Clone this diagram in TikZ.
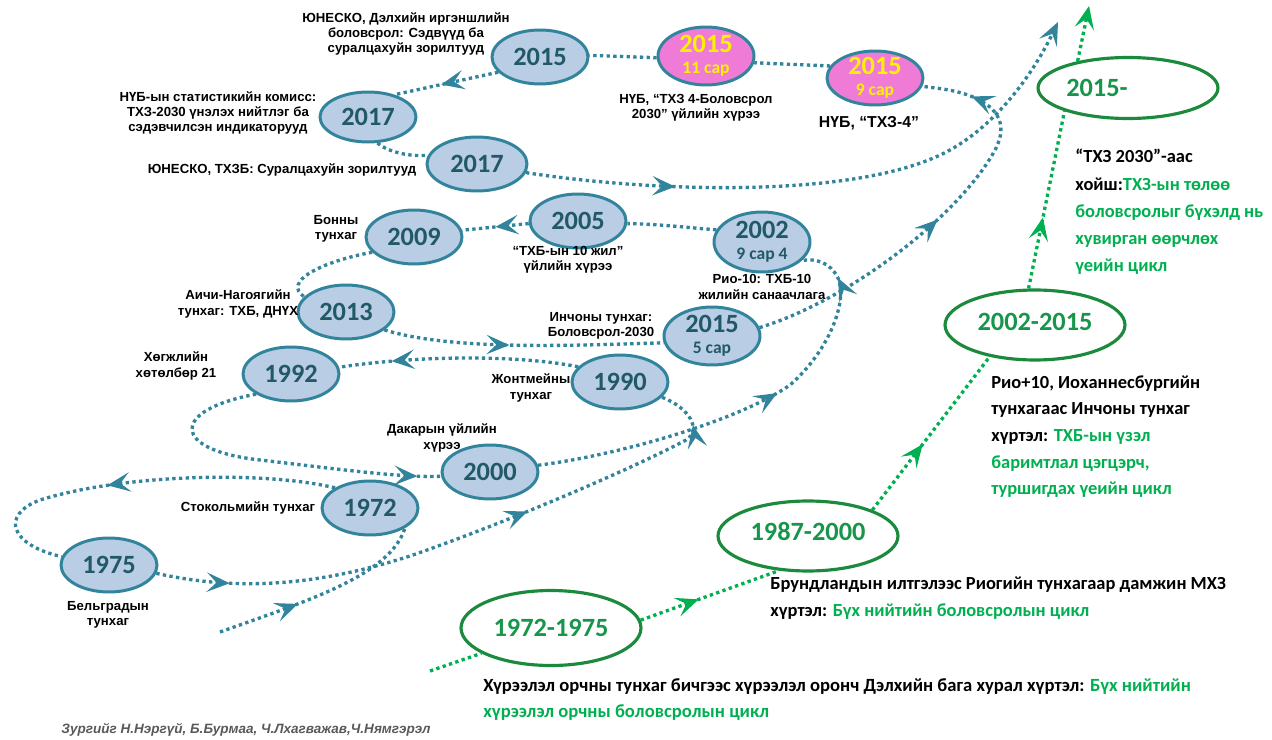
\documentclass[tikz,border=0pt]{standalone}
\usepackage{fontspec}
\setmainfont{Liberation Sans}
\newfontfamily\calibri{Carlito}
\usetikzlibrary{shapes.geometric,arrows.meta,decorations.markings}
\definecolor{tealline}{HTML}{31849B}
\definecolor{yearfill}{HTML}{B9CDE5}
\definecolor{yeartext}{HTML}{215968}
\definecolor{pinkfill}{HTML}{F07BD6}
\definecolor{cycleline}{HTML}{1B8A3C}
\definecolor{cycletext}{HTML}{17954A}
\definecolor{cyclegreen}{HTML}{00B050}
\definecolor{creditgray}{HTML}{595959}
\newcommand{\subyear}[1]{{\fontsize{10}{10}\selectfont #1}}
\tikzset{
  flowtip/.tip={Stealth[length=13pt,width=11pt,inset=5.5pt]},
  year/.style={ellipse,draw=tealline,fill=yearfill,line width=1.7pt,minimum width=1.92cm,minimum height=1.08cm,inner sep=-2pt,text=yeartext,font=\calibri\bfseries\fontsize{15}{15}\selectfont,align=center},
  pinkyear/.style={year,fill=pinkfill,text=yellow},
  cyclenode/.style={ellipse,draw=cycleline,line width=1.8pt,minimum width=3.6cm,minimum height=1.4cm,inner sep=0pt,text=cycletext,font=\calibri\bfseries\fontsize{15}{15}\selectfont},
  note/.style={font=\bfseries\fontsize{7.5}{8.8}\selectfont,align=center,inner sep=0pt},
  desc/.style={font=\calibri\bfseries\fontsize{10.5}{15.2}\selectfont,align=left,anchor=north west,inner sep=0pt},
  flow/.style={draw=tealline,line width=1.9pt,dash pattern=on 1.9pt off 1.9pt},
  cycleflow/.style={flow,draw=cyclegreen},
  midtip/.style={postaction={decorate,decoration={markings,mark=at position #1 with {\arrow{flowtip}}}}},
}
\begin{document}
\begin{tikzpicture}[x=0.02cm,y=-0.02cm]
\useasboundingbox (0,0) rectangle (1272,740);

% events
\node[year] (y1972) at (370,508) {1972};
\node[year] (y1975) at (109,565) {1975};
\node[year] (y1990) at (620,382) {1990};
\node[year] (y1992) at (291,374) {1992};
\node[year] (y2000) at (490,472) {2000};
\node[year,minimum height=1.2cm] (y2002) at (762,242) {2002\\[-3pt]\subyear{9 сар 4}};
\node[year] (y2005) at (578,221) {2005};
\node[year] (y2009) at (414,237) {2009};
\node[year] (y2013) at (346,312) {2013};
\node[year,minimum height=1.16cm] (y2015a) at (712,336) {2015\\[-3pt]\subyear{5 сар}};
\node[pinkyear] (y2015b) at (875,78) {2015\\[-3pt]\subyear{9 сар}};
\node[pinkyear,minimum height=1.16cm] (y2015c) at (706,56) {2015\\[-3pt]\subyear{11 сар}};
\node[year] (y2015d) at (540,57) {2015};
\node[year,minimum height=1cm] (y2017a) at (368,117) {2017};
\node[year,minimum width=2cm] (y2017b) at (477,164) {2017};

\node[note] (l2015d) at (406,34) {ЮНЕСКО, Дэлхийн иргэншлийн\\боловсрол: Сэдвүүд ба\\суралцахуйн зорилтууд};
\node[note] (l2015c) at (696,108) {НҮБ, “ТХЗ 4-Боловсрол\\2030” үйлийн хүрээ};
\node[note,font=\bfseries\fontsize{9}{10}\selectfont] (l2015b) at (869,123) {НҮБ, “ТХЗ-4”};
\node[note] (l2017a) at (218,113) {НҮБ-ын статистикийн комисс:\\ТХЗ-2030 үнэлэх нийтлэг ба\\сэдэвчилсэн индикаторууд};
\node[note] (l2017b) at (282,170) {ЮНЕСКО, ТХЗБ: Суралцахуйн зорилтууд};
\node[note] (l2009) at (336,229) {Бонны\\тунхаг};
\node[note] (l2005) at (568,260) {“ТХБ-ын 10 жил”\\үйлийн хүрээ};
\node[note] (l2002) at (762,287) {Рио-10: ТХБ-10\\жилийн санаачлага};
\node[note] (l2013) at (238,304) {Аичи-Нагоягийн\\тунхаг: ТХБ, ДНҮХ};
\node[note] (l2015a) at (601,326) {Инчоны тунхаг:\\Боловсрол-2030};
\node[note] (l1992) at (176,366) {Хөгжлийн\\хөтөлбөр 21};
\node[note] (l1990) at (531,388) {Жонтмейны\\тунхаг};
\node[note] (l2000) at (442,438) {Дакарын үйлийн\\хүрээ};
\node[note] (l1972) at (248,508) {Стокольмийн тунхаг};
\node[note] (l1975) at (108,615) {Бельградын\\тунхаг};

% timeline
\coordinate (start) at (220,632);
\coordinate (future) at (1058,22);
\draw[flow,midtip=0.38] (start) .. controls (310,600) and (390,575) .. (y1972.-30);
\draw[flow,midtip=0.58] (y1972.150) .. controls (260,470) and (120,475) .. (40,500) .. controls (0,515) and (10,545) .. (y1975.170);
\draw[flow,midtip=0.12,midtip=0.62,midtip=0.93] (y1975.-10) .. controls (240,592) and (320,585) .. (410,556) .. controls (500,525) and (630,470) .. (686,440) .. controls (702,430) and (690,408) .. (y1990.-20);
\draw[flow,midtip=0.78] (y1990.160) .. controls (520,355) and (420,355) .. (y1992.8);
\draw[flow,midtip=0.93] (y1992.-150) .. controls (170,410) and (170,450) .. (260,460) .. controls (330,468) and (400,478) .. (y2000.185);
\draw[flow,midtip=0.58,midtip=0.9] (y2000.8) .. controls (620,455) and (740,420) .. (790,385) .. controls (830,350) and (848,300) .. (838,278) .. controls (830,262) and (815,258) .. (y2002.-25);
\draw[flow] (y2002.165) .. controls (690,228) and (660,224) .. (y2005.-3);
\draw[flow,midtip=0.5] (y2005.183) -- (y2009.8);
\draw[flow] (y2009.-160) .. controls (320,262) and (282,282) .. (y2013.160);
\draw[flow,midtip=0.45] (y2013.-25) .. controls (450,350) and (560,346) .. (y2015a.188);
\draw[flow,midtip=0.5,midtip=0.88] (y2015a.10) .. controls (850,300) and (960,215) .. (995,150) .. controls (1010,122) and (995,105) .. (968,95) .. controls (950,89) and (935,88) .. (y2015b.-10);
\draw[flow] (y2015b.165) -- (y2015c.-8);
\draw[flow] (y2015c.182) -- (y2015d.2);
\draw[flow,midtip=0.55] (y2015d.-160) -- (y2017a.40);
\draw[flow] (y2017a.-70) .. controls (385,150) and (405,157) .. (y2017b.170);
\draw[flow,midtip=0.25,-flowtip] (y2017b.-10) .. controls (650,192) and (860,200) .. (950,150) .. controls (1000,122) and (1035,70) .. (future);

% cycles
\node[cyclenode,minimum height=1.5cm] (c1972) at (551,628) {1972-1975};
\node[cyclenode] (c1987) at (808,536) {\raisebox{5pt}{1987-2000}};
\node[cyclenode] (c2002) at (1035,325) {\raisebox{4pt}{2002-2015}};
\node[cyclenode,minimum height=1.22cm] (c2015) at (1128,88) {2015-\hspace*{1.24cm}};
\coordinate (gstart) at (430,671);
\coordinate (gend) at (1089,6);
\draw[cycleflow] (gstart) -- (c1972.-160);
\draw[cycleflow,midtip=0.42] (c1972.5) -- (c1987.-130);
\draw[cycleflow,midtip=0.43] (c1987.22) -- (c2002.-145);
\draw[cycleflow,midtip=0.4] (c2002.100) -- (c2015.-160);
\draw[cycleflow,-flowtip] (c2015.152) -- (gend);

\node[desc,font=\calibri\bfseries\fontsize{10.5}{15.5}\selectfont] (d2015) at (1075,149) {“ТХЗ 2030”-аас\\хойш:\textcolor{cyclegreen}{ТХЗ-ын төлөө}\\\textcolor{cyclegreen}{боловсролыг бүхэлд нь}\\\textcolor{cyclegreen}{хувирган өөрчлөх}\\\textcolor{cyclegreen}{үеийн цикл}};
\node[desc] (d2002) at (991,375) {Рио+10, Иоханнесбургийн\\тунхагаас Инчоны тунхаг\\хүртэл: \textcolor{cyclegreen}{ТХБ-ын үзэл}\\\textcolor{cyclegreen}{баримтлал цэгцэрч,}\\\textcolor{cyclegreen}{туршигдах үеийн цикл}};
\node[desc] (d1987) at (770,577) {Брундландын илтгэлээс Риогийн тунхагаар дамжин МХЗ\\хүртэл: \textcolor{cyclegreen}{Бүх нийтийн боловсролын цикл}};
\node[desc,font=\calibri\bfseries\fontsize{10.6}{15.2}\selectfont] (d1972) at (483,678) {Хүрээлэл орчны тунхаг бичгээс хүрээлэл оронч Дэлхийн бага хурал хүртэл: \textcolor{cyclegreen}{Бүх нийтийн}\\\textcolor{cyclegreen}{хүрээлэл орчны боловсролын цикл}};

\node[font=\bfseries\itshape\fontsize{7.7}{8}\selectfont,text=creditgray] (credit) at (246,730) {Зургийг Н.Нэргүй, Б.Бурмаа, Ч.Лхагважав,Ч.Нямгэрэл};

\end{tikzpicture}
\end{document}
